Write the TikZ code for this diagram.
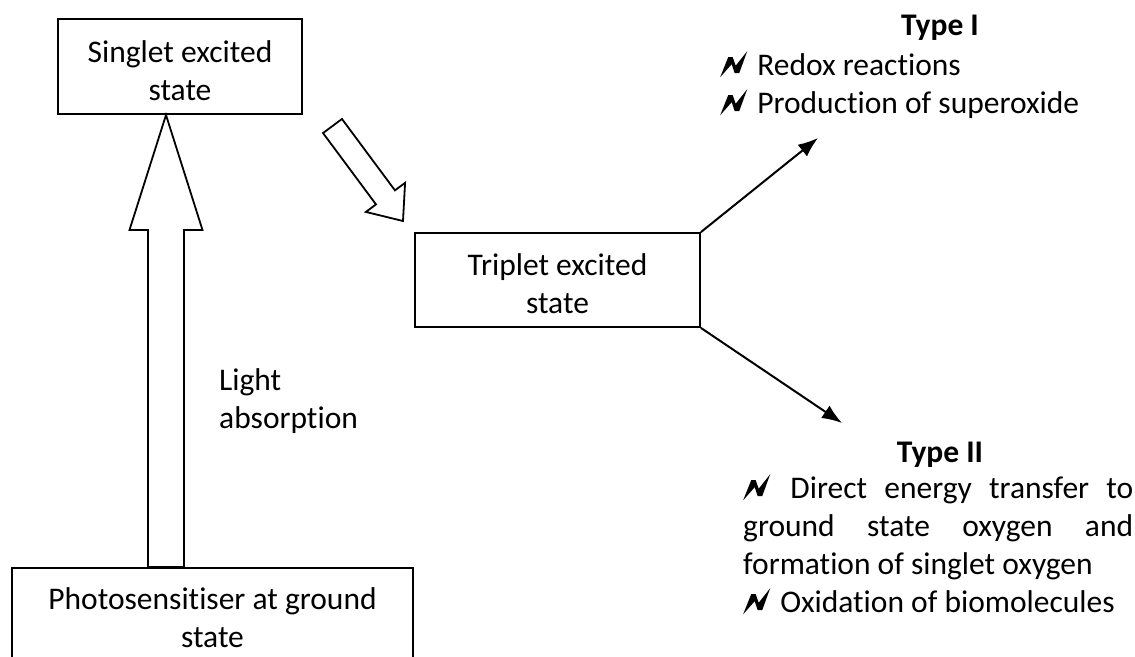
\documentclass[tikz,border=0pt]{standalone}
\usepackage{fontspec}
\setmainfont{Carlito}[Ligatures=NoCommon]
\usetikzlibrary{calc,arrows.meta}
\newcommand\bolt{\tikz[x=1pt,y=1pt,baseline=0pt]{\fill (0,-2) -- (8,18) -- (12.5,18) -- (15.5,9.5) -- (27,24) -- (19,2) -- (14.5,2) -- (11.5,11) -- cycle; \path (0,0) -- (30,0);}}
\newcommand\blockarrow[5]{%
  \coordinate (hb) at ($(#2)!#5!(#1)$);
  \draw[blockarrow] ($(#1)!#3!90:(#2)$) -- ($(hb)!#3!90:(#2)$) -- ($(hb)!#4!90:(#2)$) -- (#2)
    -- ($(hb)!#4!-90:(#2)$) -- ($(hb)!#3!-90:(#2)$) -- ($(#1)!#3!-90:(#2)$) -- cycle;}
\begin{document}
\begin{tikzpicture}[x=1pt,y=-1pt,
  box/.style={draw,line width=1.8pt,align=center,font=\fontsize{31.5}{38}\selectfont},
  label/.style={align=left,inner sep=0pt,font=\fontsize{31.5}{38}\selectfont},
  heading/.style={inner sep=0pt,font=\bfseries\fontsize{31.5}{38}\selectfont},
  blockarrow/.style={draw,line width=1.8pt,line join=miter},
  thinarrow/.style={-{Latex[length=20pt,width=15pt]},line width=2pt}]
\useasboundingbox (0,0) rectangle (1135,656);
\node[box,minimum width=244pt,minimum height=95pt] (singlet) at (180,66.5) {\rule{0pt}{30pt}Singlet excited\\state};
\node[box,minimum width=401pt,minimum height=100pt] (ground) at (212.5,618) {Photosensitiser at ground\\state};
\node[box,minimum width=285pt,minimum height=94pt] (triplet) at (557.5,280) {\rule{0pt}{30pt}Triplet excited\\state};
\node[label,anchor=west] (light) at (219,401) {Light\\absorption};
\node[heading] (typeI) at (940,28) {Type I};
\node[label,anchor=north west] (typeIlist) at (720,51) {\bolt\ Redox reactions\\\bolt\ Production of superoxide};
\node[heading] (typeII) at (940,455) {Type II};
\node[label,anchor=north west] (typeIIlist) at (743,474) {\makebox[390pt][s]{\bolt\ Direct energy transfer to}\\\makebox[390pt][s]{ground state oxygen and}\\formation of singlet oxygen\\\bolt\ Oxidation of biomolecules};
\coordinate (uptip) at (166,115);
\coordinate (uptail) at (uptip |- ground.north);
\coordinate (dtail) at (332.5,126);
\coordinate (dtip) at (403,221);
\coordinate (typeIend) at (818,138);
\coordinate (typeIIend) at (842,423);
\blockarrow{uptail}{uptip}{18pt}{36.5pt}{115pt}
\blockarrow{dtail}{dtip}{11.8pt}{24.4pt}{29.4pt}
\draw[thinarrow] (triplet.north east) -- (typeIend);
\draw[thinarrow] (triplet.south east) -- (typeIIend);
\end{tikzpicture}
\end{document}
